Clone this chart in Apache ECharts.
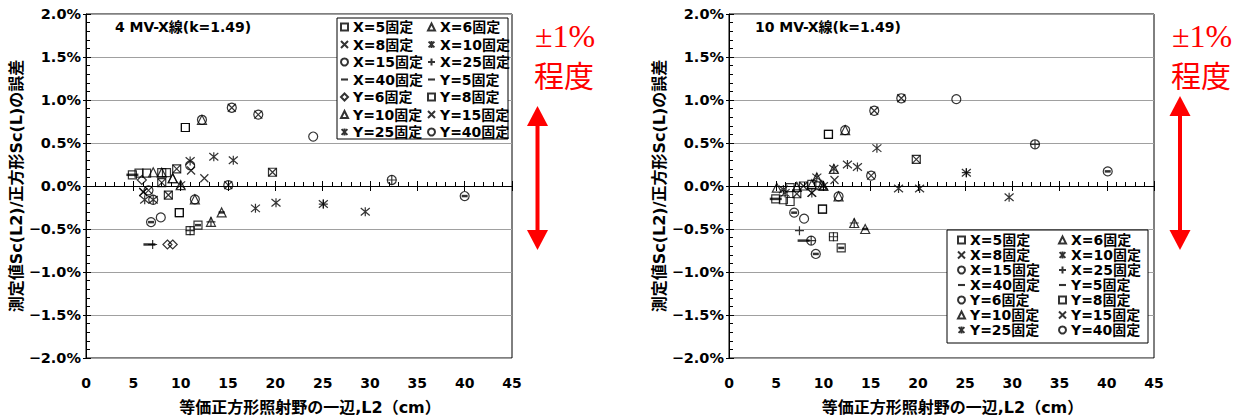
<!DOCTYPE html>
<html><head><meta charset="utf-8">
<script src="https://cdn.jsdelivr.net/npm/echarts@6/dist/echarts.min.js"></script>
<style>html,body{margin:0;padding:0;background:#fff}#c{width:1256px;height:419px}</style>
</head><body><div id="c"></div>
<script>
// ---------- DATA ----------
const seriesNames = ['X=5固定','X=6固定','X=8固定','X=10固定','X=15固定','X=25固定','X=40固定',
                     'Y=5固定','Y=6固定','Y=8固定','Y=10固定','Y=15固定','Y=25固定','Y=40固定'];
const legendCol1 = ['X=5固定','X=8固定','X=15固定','X=40固定','Y=6固定','Y=10固定','Y=25固定'];
const legendCol2 = ['X=6固定','X=10固定','X=25固定','Y=5固定','Y=8固定','Y=15固定','Y=40固定'];
const panelTitles = ['4 MV-X線(k=1.49)', '10 MV-X線(k=1.49)'];
const xAxisTitle = '等価正方形照射野の一辺,L2（cm）';
const yAxisTitle = '測定値Sc(L2)/正方形Sc(L)の誤差';
const noteLine1 = '±1%';
const noteLine2 = '程度';

// 4 MV  [L2 (cm), error (%)]
const mv4_X5  = [[4.9,0.13],[5.6,0.15],[6.4,0.15],[10.5,0.68],[9.86,-0.31]];
const mv4_X6  = [[7.1,0.16],[8.0,0.155],[9.16,0.09]];
const mv4_X8  = [[9.58,0.2],[8.0,0.04],[12.5,0.09],[15.4,0.91],[19.7,0.16],[8.7,-0.105],[6.05,-0.07]];
const mv4_X10 = [[10.0,0.01],[11.0,0.29],[15.56,0.3],[20.07,-0.195],[6.2,-0.16]];
const mv4_X15 = [[12.25,0.77],[15.03,0.01],[18.2,0.83],[6.6,-0.05],[7.1,-0.16],[11.5,-0.155]];
const mv4_X25 = [[32.3,0.07],[11.0,-0.52],[13.2,-0.416],[25.07,-0.21],[7.04,-0.68]];
const mv4_X40 = [[6.87,-0.42],[11.83,-0.455],[14.33,-0.307],[40.0,-0.117]];
const mv4_Y5  = [[4.9,0.13],[6.7,-0.68]];
const mv4_Y6  = [[5.9,0.07],[8.6,-0.68],[9.16,-0.68]];
const mv4_Y8  = [[8.0,0.155],[8.5,0.155],[9.58,0.2],[8.0,0.04],[10.5,0.68],[9.86,-0.31],[11.0,-0.52],[11.83,-0.455],[8.7,-0.105],[19.7,0.16]];
const mv4_Y10 = [[10.0,0.01],[12.25,0.77],[11.5,-0.155],[13.2,-0.416],[14.33,-0.307],[9.16,0.09]];
const mv4_Y15 = [[15.03,0.01],[11.1,0.18],[18.2,0.83],[6.6,-0.05],[6.05,-0.07]];
const mv4_Y25 = [[13.5,0.34],[7.1,-0.16],[17.9,-0.26],[25.07,-0.21],[29.5,-0.3]];
const mv4_Y40 = [[24.0,0.575],[15.4,0.91],[32.3,0.07],[40.0,-0.117],[7.9,-0.365],[6.87,-0.42],[11.0,0.24]];

// 10 MV
const mv10_X5  = [[10.53,0.6],[6.47,-0.02],[4.95,-0.15],[5.76,-0.16],[6.47,-0.18],[9.9,-0.27]];
const mv10_X6  = [[5.06,-0.02],[7.18,-0.01],[8.77,0.02]];
const mv10_X8  = [[15.38,0.875],[19.83,0.31],[7.88,0.0],[7.18,-0.09],[8.77,-0.08]];
const mv10_X10 = [[15.66,0.44],[13.6,0.22],[20.18,-0.03],[9.3,0.1],[5.94,-0.08],[10.0,0.0]];
const mv10_X15 = [[12.3,0.65],[18.24,1.02],[15.05,0.12],[11.6,-0.12]];
const mv10_X25 = [[32.4,0.485],[25.13,0.155],[13.26,-0.43],[7.46,-0.52],[11.06,-0.59],[8.7,-0.635]];
const mv10_X40 = [[40.1,0.17],[6.9,-0.31],[14.42,-0.5],[11.88,-0.72],[9.19,-0.79]];
const mv10_Y5  = [[4.95,-0.15],[7.9,-0.635]];
const mv10_Y6  = [[6.9,-0.31],[7.95,-0.38],[8.7,-0.635],[9.19,-0.79]];
const mv10_Y8  = [[10.53,0.6],[19.83,0.31],[7.88,0.0],[8.77,0.02],[7.18,-0.09],[9.9,-0.27],[11.06,-0.59],[11.88,-0.72]];
const mv10_Y10 = [[12.3,0.65],[11.1,0.2],[9.3,0.1],[9.83,0.01],[10.0,0.0],[11.6,-0.12],[13.26,-0.43],[14.42,-0.5]];
const mv10_Y15 = [[18.24,1.02],[11.17,0.07],[15.05,0.12]];
const mv10_Y25 = [[12.54,0.25],[11.1,0.2],[25.13,0.155],[17.95,-0.03],[29.66,-0.13],[5.76,-0.04],[8.77,-0.08]];
const mv10_Y40 = [[24.07,1.01],[15.38,0.875],[32.4,0.485],[40.1,0.17]];

const panelData = [
  [mv4_X5,mv4_X6,mv4_X8,mv4_X10,mv4_X15,mv4_X25,mv4_X40,mv4_Y5,mv4_Y6,mv4_Y8,mv4_Y10,mv4_Y15,mv4_Y25,mv4_Y40],
  [mv10_X5,mv10_X6,mv10_X8,mv10_X10,mv10_X15,mv10_X25,mv10_X40,mv10_Y5,mv10_Y6,mv10_Y8,mv10_Y10,mv10_Y15,mv10_Y25,mv10_Y40]
];

// ---------- STYLE ----------
const FONT = "'DejaVu Sans','Noto Sans CJK JP',sans-serif";
const CROSS = 'path://M0,0L10,10M10,0L0,10';
const STAR  = 'path://M0,0L10,10M10,0L0,10M5,-1L5,11';
const PLUS  = 'path://M5,0L5,10M0,5L10,5';
const DASH  = 'path://M0,0L10,0L10,3L0,3Z';
const symbolsByPanel = [
  ['rect','triangle',CROSS,STAR,'circle',PLUS,DASH,DASH,'diamond','rect','triangle',CROSS,STAR,'circle'],
  ['rect','triangle',CROSS,STAR,'circle',PLUS,DASH,DASH,'circle','rect','triangle',CROSS,STAR,'circle']
];
const sizes = [8,9,8,9,9,9,[6,2.5],[12,2.5],9,8,9,8,9,9];
const filled = [false,false,false,false,false,false,true,true,false,false,false,false,false,false];

const grids = [
  {left:86, top:14, width:426, height:344},
  {left:729, top:14, width:425, height:344}
];

const fmtPct = v => (v < 0 ? '\u2212' : '') + Math.abs(v).toFixed(1) + '%';

const option = {
  animation:false,
  backgroundColor:'#fff',
  grid: grids.map(g => Object.assign({show:true, borderColor:'#000', borderWidth:1, backgroundColor:'#fff', containLabel:false, outerBoundsMode:'none'}, g)),
  xAxis: [], yAxis: [], series: [], legend: [], graphic: {elements: []}
};

grids.forEach((g, gi) => {
  const yBase = option.yAxis.length;
  option.yAxis.push({
    gridIndex:gi, type:'value', min:-2, max:2, interval:0.5, position:'left',
    axisLine:{show:true, onZero:false, lineStyle:{color:'#000', width:1}},
    axisTick:{show:true, inside:false, length:3, lineStyle:{color:'#000'}},
    splitLine:{show:true, lineStyle:{color:'#a0a0a0', width:1}},
    axisLabel:{formatter:fmtPct, margin:5, fontSize:14.5, fontWeight:'bold', fontFamily:FONT, color:'#000'},
    name:yAxisTitle, nameLocation:'middle', nameGap:60, nameRotate:90,
    nameTextStyle:{fontSize:16, fontWeight:'bold', fontFamily:FONT, color:'#000'}
  });
  option.yAxis.push({
    gridIndex:gi, type:'value', min:-2, max:2, interval:0.5, position:'left',
    axisLine:{show:false, onZero:false},
    axisTick:{show:true, inside:true, length:5, lineStyle:{color:'#000'}},
    minorTick:{show:true, splitNumber:5, length:4, lineStyle:{color:'#000'}},
    axisLabel:{show:false}, splitLine:{show:false}
  });
  const xBase = option.xAxis.length;
  option.xAxis.push({
    gridIndex:gi, type:'value', min:0, max:45, interval:5, position:'bottom',
    axisLine:{show:false, onZero:false}, axisTick:{show:false}, splitLine:{show:false},
    axisLabel:{margin:18, fontSize:14, fontWeight:'bold', fontFamily:FONT, color:'#000'},
    name:xAxisTitle, nameLocation:'middle', nameGap:41,
    nameTextStyle:{fontSize:16, fontWeight:'bold', fontFamily:FONT, color:'#000', padding:[0,0,0,22]}
  });
  option.xAxis.push({
    gridIndex:gi, type:'value', min:0, max:45, interval:5, position:'bottom',
    axisLine:{show:true, onZero:true, onZeroAxisIndex:yBase, lineStyle:{color:'#000', width:1}},
    axisTick:{show:true, inside:true, length:5, lineStyle:{color:'#000'}},
    minorTick:{show:true, splitNumber:5, length:4, lineStyle:{color:'#000'}},
    axisLabel:{show:false}, splitLine:{show:false}
  });
  option.xAxis.push({
    gridIndex:gi, type:'value', min:0, max:45, interval:5, position:'bottom',
    axisLine:{show:true, onZero:true, onZeroAxisIndex:yBase, lineStyle:{color:'#000', width:1}},
    axisTick:{show:true, inside:false, length:5, lineStyle:{color:'#000'}},
    axisLabel:{show:false}, splitLine:{show:false}
  });
  seriesNames.forEach((name, si) => {
    option.series.push({
      type:'scatter', name, xAxisIndex:xBase, yAxisIndex:yBase,
      data: panelData[gi][si],
      symbol: symbolsByPanel[gi][si], symbolSize: sizes[si],
      itemStyle: filled[si] ? {color:'#000', borderWidth:0} : {color:'rgba(0,0,0,0)', borderColor:'#000', borderWidth:1.2},
      emphasis:{disabled:true}, silent:true, z:5
    });
  });
});

// legends
const legendText = {fontSize:14, fontWeight:'bold', fontFamily:FONT, color:'#000', lineHeight:14};
function legendItems(list, gi){
  return list.map(n => ({name:n, icon: symbolsByPanel[gi][seriesNames.indexOf(n)]}));
}
const legendSpecs = [
  {gi:0, col:legendCol1, left:340, top:20, gap:3.5},
  {gi:0, col:legendCol2, left:427, top:20, gap:3.5},
  {gi:1, col:legendCol1, left:957, top:233, gap:1},
  {gi:1, col:legendCol2, left:1058, top:233, gap:1}
];
legendSpecs.forEach(s => {
  option.legend.push({
    orient:'vertical', left:s.left, top:s.top, padding:0, itemWidth:7, itemHeight:7, itemGap:s.gap,
    selectedMode:false, textStyle:legendText, data:legendItems(s.col, s.gi), z:10
  });
});

// legend boxes, panel titles, red notes
const boxes = [[337,18,171,121],[947,230,201,113]];
boxes.forEach(b => option.graphic.elements.push({
  type:'rect', shape:{x:b[0], y:b[1], width:b[2], height:b[3]}, z:3,
  style:{fill:'#fff', stroke:'#000', lineWidth:1}
}));
[[115,27],[755,27]].forEach((p,i) => option.graphic.elements.push({
  type:'text', x:p[0], y:p[1], z:6,
  style:{text:panelTitles[i], font:"bold 14px " + FONT, fill:'#000', verticalAlign:'middle', align:'left'}
}));
const notes = [{x:535, arrowX:537.5, top:106, bottom:250}, {x:1172, arrowX:1180, top:96, bottom:250}];
notes.forEach(n => {
  option.graphic.elements.push({type:'text', x:n.x, y:36, z:6,
    style:{text:noteLine1, font:"32px 'Liberation Serif',serif", fill:'#ff0000', verticalAlign:'middle', align:'left'}});
  option.graphic.elements.push({type:'text', x:n.x - 1, y:74, z:6,
    style:{text:noteLine2, font:"30px 'Noto Sans CJK JP',sans-serif", fill:'#ff0000', verticalAlign:'middle', align:'left'}});
  const cx = n.arrowX, hw = 10.5, hl = 20;
  option.graphic.elements.push({type:'polygon', z:6, shape:{points:[[cx,n.top],[cx-hw,n.top+hl],[cx+hw,n.top+hl]]}, style:{fill:'#ff0000'}});
  option.graphic.elements.push({type:'polygon', z:6, shape:{points:[[cx,n.bottom],[cx-hw,n.bottom-hl],[cx+hw,n.bottom-hl]]}, style:{fill:'#ff0000'}});
  option.graphic.elements.push({type:'rect', z:6, shape:{x:cx-2, y:n.top+hl-2, width:4, height:n.bottom-n.top-2*hl+4}, style:{fill:'#ff0000'}});
});

const chart = echarts.init(document.getElementById('c'), null, {renderer:'svg'});
chart.setOption(option);
</script>
</body></html>
